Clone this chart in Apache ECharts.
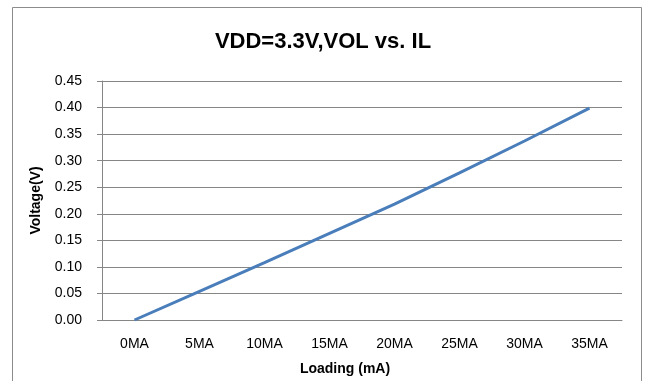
<!DOCTYPE html>
<html>
<head>
<meta charset="utf-8">
<script src="https://cdn.jsdelivr.net/npm/echarts@6/dist/echarts.min.js"></script>
<style>
html,body{margin:0;padding:0;background:#fff;}
#chart{width:646px;height:381px;}
</style>
</head>
<body>
<div id="chart"></div>
<script>
var titleText = 'VDD=3.3V,VOL vs. IL';
var categories = ['0MA','5MA','10MA','15MA','20MA','25MA','30MA','35MA'];
var voltage = [0.000, 0.054, 0.108, 0.163, 0.218, 0.277, 0.337, 0.399];
var xName = 'Loading (mA)';
var yName = 'Voltage(V)';

var chart = echarts.init(document.getElementById('chart'));
var fontFam = '"Liberation Sans", Arial, sans-serif';
chart.setOption({
  animation: false,
  backgroundColor: '#fff',
  graphic: [{
    type: 'rect',
    shape: {x: 12.5, y: 7.5, width: 629, height: 400},
    style: {fill: 'none', stroke: '#8c8c8c', lineWidth: 1},
    silent: true
  }],
  title: {
    text: titleText,
    left: 'center',
    top: 26,
    textStyle: {fontFamily: fontFam, fontSize: 22, fontWeight: 'bold', color: '#000'}
  },
  grid: {left: 102, right: 24, top: 81, bottom: 60},
  xAxis: {
    type: 'category',
    data: categories,
    boundaryGap: true,
    name: xName,
    nameLocation: 'middle',
    nameGap: 42,
    nameTextStyle: {fontFamily: fontFam, fontSize: 14, fontWeight: 'bold', color: '#000', padding: [0, 34, 0, 0]},
    axisLine: {show: true, lineStyle: {color: '#868686', width: 1}},
    axisTick: {show: false},
    axisLabel: {margin: 17, fontFamily: fontFam, fontSize: 14, color: '#000'}
  },
  yAxis: {
    type: 'value',
    min: 0,
    max: 0.45,
    interval: 0.05,
    name: yName,
    nameLocation: 'middle',
    nameGap: 59,
    nameTextStyle: {fontFamily: fontFam, fontSize: 14, fontWeight: 'bold', color: '#000'},
    axisLine: {show: true, lineStyle: {color: '#868686', width: 1}},
    axisTick: {show: true, length: 5, inside: false, lineStyle: {color: '#868686'}},
    axisLabel: {margin: 20, fontFamily: fontFam, fontSize: 14, color: '#000',
      formatter: function (v) { return v.toFixed(2); }},
    splitLine: {show: true, lineStyle: {color: '#868686', width: 1}}
  },
  series: [{
    type: 'line',
    data: voltage,
    symbol: 'none',
    smooth: false,
    lineStyle: {color: '#4a7ebb', width: 3},
    itemStyle: {color: '#4a7ebb'}
  }]
});
</script>
</body>
</html>
